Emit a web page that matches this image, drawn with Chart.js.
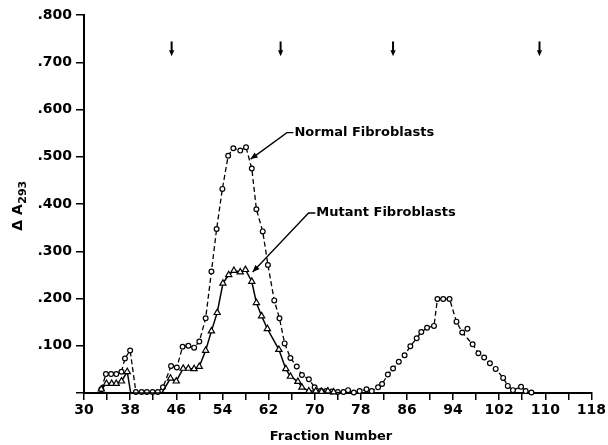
<!DOCTYPE html>
<html>
<head>
<meta charset="utf-8">
<script src="https://cdn.jsdelivr.net/npm/chart.js@4.4.1/dist/chart.umd.min.js"></script>
<style>
  html, body { margin: 0; padding: 0; background: #fff; }
  #wrap { width: 608px; height: 445px; }
</style>
</head>
<body>
<div id="wrap"><canvas id="chart" width="608" height="445"></canvas></div>
<script>
// fractions and delta A293
const normalFractions = [33.0, 33.8, 34.7, 35.6, 36.5, 37.1, 38.0, 39.0, 40.0, 40.9, 41.9, 42.8, 43.7,
  45.1, 46.1, 47.1, 48.1, 49.1, 50.0, 51.1, 52.1, 53.0, 54.0, 55.0, 55.9, 57.1, 58.1, 59.1, 59.9,
  61.0, 61.9, 63.0, 63.9, 64.8, 65.8, 66.9, 67.8, 69.0, 70.0, 71.1, 72.0, 73.0, 74.0, 75.0, 75.8,
  76.8, 77.8, 79.0, 79.9, 81.0, 81.7, 82.7, 83.6, 84.6, 85.6, 86.6, 87.7, 88.5, 89.5, 90.7, 91.3,
  92.3, 93.4, 94.6, 95.6, 97.4, 98.4, 99.4, 100.4, 101.4, 102.7, 103.5, 104.4, 105.8, 106.6, 107.6];
const normalValues = [0.008, 0.040, 0.040, 0.040, 0.045, 0.073, 0.090, 0.002, 0.002, 0.002, 0.002, 0.002, 0.012,
  0.057, 0.054, 0.098, 0.100, 0.096, 0.109, 0.158, 0.257, 0.347, 0.432, 0.502, 0.518, 0.513, 0.520, 0.475, 0.389,
  0.342, 0.271, 0.196, 0.158, 0.105, 0.074, 0.056, 0.038, 0.029, 0.012, 0.005, 0.004, 0.003, 0.002, 0.002, 0.006,
  0.001, 0.004, 0.008, 0.004, 0.012, 0.019, 0.039, 0.052, 0.066, 0.080, 0.099, 0.116, 0.129, 0.138, 0.142, 0.199,
  0.199, 0.199, 0.151, 0.128, 0.103, 0.084, 0.075, 0.063, 0.051, 0.032, 0.015, 0.006, 0.013, 0.004, 0.001];

// stray circle that sits off the dashed line
const strayFractions = [96.5];
const strayValues = [0.136];

const mutantFractions = [33.0, 33.9, 34.8, 35.6, 36.5, 37.5, 38.1, 43.5, 45.0, 46.0, 47.2, 48.1, 49.1, 50.0,
  51.1, 52.1, 53.1, 54.1, 55.1, 56.0, 57.1, 58.0, 59.1, 59.9, 60.8, 61.8, 63.8, 65.0, 65.8, 67.1, 67.8,
  69.0, 70.2, 71.2, 72.3, 73.3, 74.5];
const mutantValues = [0.008, 0.020, 0.020, 0.020, 0.025, 0.045, 0, 0, 0.031, 0.025, 0.052, 0.052, 0.051, 0.056,
  0.090, 0.131, 0.170, 0.232, 0.250, 0.259, 0.256, 0.261, 0.236, 0.191, 0.163, 0.136, 0.092, 0.051, 0.035, 0.024, 0.012,
  0.004, 0.004, 0.003, 0.004, 0.002, 0];

// arrows along the top of the plot
const arrowFractions = [45.2, 64.1, 83.6, 109.0];

const seriesLabels = ['Normal Fibroblasts', 'Mutant Fibroblasts'];

const toPoints = (xs, ys) => xs.map((x, i) => ({ x: x, y: ys[i] }));

const FONT = 'DejaVu Sans';

// label + pointer positions, in data units
const callouts = [
  { text: seriesLabels[0], x: 66.5, y: 0.551, corner: 65.2, tipX: 58.9, tipY: 0.495 },
  { text: seriesLabels[1], x: 70.3, y: 0.381, corner: 68.95, tipX: 59.25, tipY: 0.256 }
];

function arrowHead(ctx, fromX, fromY, toX, toY, len, half) {
  const ang = Math.atan2(toY - fromY, toX - fromX);
  ctx.beginPath();
  ctx.moveTo(toX, toY);
  ctx.lineTo(toX - len * Math.cos(ang) + half * Math.sin(ang), toY - len * Math.sin(ang) - half * Math.cos(ang));
  ctx.lineTo(toX - len * Math.cos(ang) - half * Math.sin(ang), toY - len * Math.sin(ang) + half * Math.cos(ang));
  ctx.closePath();
  ctx.fill();
}

const extras = {
  id: 'extras',
  afterDraw(chart) {
    const ctx = chart.ctx;
    const xs = chart.scales.x, ys = chart.scales.y;
    ctx.save();
    ctx.fillStyle = '#000';
    ctx.strokeStyle = '#000';

    // top arrows
    ctx.lineWidth = 2;
    arrowFractions.forEach(f => {
      const px = xs.getPixelForValue(f);
      const y0 = ys.getPixelForValue(0.744);
      const y1 = ys.getPixelForValue(0.7125);
      ctx.beginPath();
      ctx.moveTo(px, y0);
      ctx.lineTo(px, y1 - 4);
      ctx.stroke();
      arrowHead(ctx, px, y0, px, y1, 6, 2.6);
    });

    // callouts
    ctx.font = 'bold 13px ' + FONT;
    ctx.textBaseline = 'middle';
    ctx.textAlign = 'left';
    ctx.lineWidth = 1.3;
    callouts.forEach(c => {
      const tx = xs.getPixelForValue(c.x), ty = ys.getPixelForValue(c.y);
      const cx = xs.getPixelForValue(c.corner);
      const px = xs.getPixelForValue(c.tipX), py = ys.getPixelForValue(c.tipY);
      ctx.fillText(c.text, tx, ty);
      ctx.beginPath();
      ctx.moveTo(tx - 1, ty);
      ctx.lineTo(cx, ty);
      ctx.lineTo(px, py);
      ctx.stroke();
      arrowHead(ctx, cx, ty, px, py, 7, 3);
    });

    // x title
    ctx.textAlign = 'center';
    ctx.fillText('Fraction Number', 331, 437);

    // y title with subscript
    ctx.translate(18, 206);
    ctx.rotate(-Math.PI / 2);
    ctx.textAlign = 'left';
    const main = '\u0394 A';
    const sub = '293';
    ctx.font = 'bold 14px ' + FONT;
    const w1 = ctx.measureText(main).width;
    ctx.font = 'bold 11px ' + FONT;
    const w2 = ctx.measureText(sub).width;
    const start = -(w1 + w2) / 2;
    ctx.font = 'bold 14px ' + FONT;
    ctx.fillText(main, start, 0);
    ctx.font = 'bold 11px ' + FONT;
    ctx.fillText(sub, start + w1 + 0.5, 5);
    ctx.restore();
  }
};

new Chart(document.getElementById('chart'), {
  type: 'line',
  data: {
    datasets: [
      {
        label: seriesLabels[1],
        data: toPoints(mutantFractions, mutantValues),
        borderColor: '#000',
        borderWidth: 1.5,
        backgroundColor: '#fff',
        pointStyle: 'triangle',
        pointRadius: c => (c.raw && c.raw.y === 0 ? 0 : 3.6),
        pointBorderWidth: 1.2,
        pointBorderColor: '#000',
        pointBackgroundColor: '#fff',
        tension: 0,
        clip: false
      },
      {
        label: seriesLabels[0],
        data: toPoints(normalFractions, normalValues),
        borderColor: '#000',
        borderWidth: 1.3,
        borderDash: [5, 3],
        backgroundColor: '#fff',
        pointStyle: 'circle',
        pointRadius: 2.4,
        pointBorderWidth: 1.2,
        pointBorderColor: '#000',
        pointBackgroundColor: '#fff',
        tension: 0,
        clip: false
      },
      {
        label: 'stray',
        data: toPoints(strayFractions, strayValues),
        showLine: false,
        pointStyle: 'circle',
        pointRadius: 2.4,
        pointBorderWidth: 1.2,
        pointBorderColor: '#000',
        pointBackgroundColor: '#fff',
        clip: false
      }
    ]
  },
  options: {
    responsive: false,
    animation: false,
    events: [],
    layout: { padding: { left: 0, top: 15, right: 12, bottom: 0 } },
    plugins: {
      legend: { display: false },
      tooltip: { enabled: false }
    },
    scales: {
      x: {
        type: 'linear',
        min: 30,
        max: 118,
        afterFit: s => { s.height = 52; },
        border: { color: '#000', width: 2 },
        grid: { drawOnChartArea: false, drawTicks: true, tickLength: 7, color: '#000', lineWidth: 1.5 },
        ticks: {
          stepSize: 4,
          autoSkip: false,
          maxRotation: 0,
          padding: 2,
          color: '#000',
          font: { family: FONT, size: 14, weight: 'bold' },
          callback: v => ((v - 30) % 8 === 0 ? String(v) : '')
        }
      },
      y: {
        min: 0,
        max: 0.8,
        afterFit: s => { s.width = 84; },
        border: { color: '#000', width: 2 },
        grid: { drawOnChartArea: false, drawTicks: true, tickLength: 8, color: '#000', lineWidth: 1.5 },
        ticks: {
          stepSize: 0.1,
          padding: 4,
          color: '#000',
          font: { family: FONT, size: 14, weight: 'bold' },
          callback: v => (v === 0 ? '' : v.toFixed(3).slice(1))
        }
      }
    }
  },
  plugins: [extras]
});
</script>
</body>
</html>
